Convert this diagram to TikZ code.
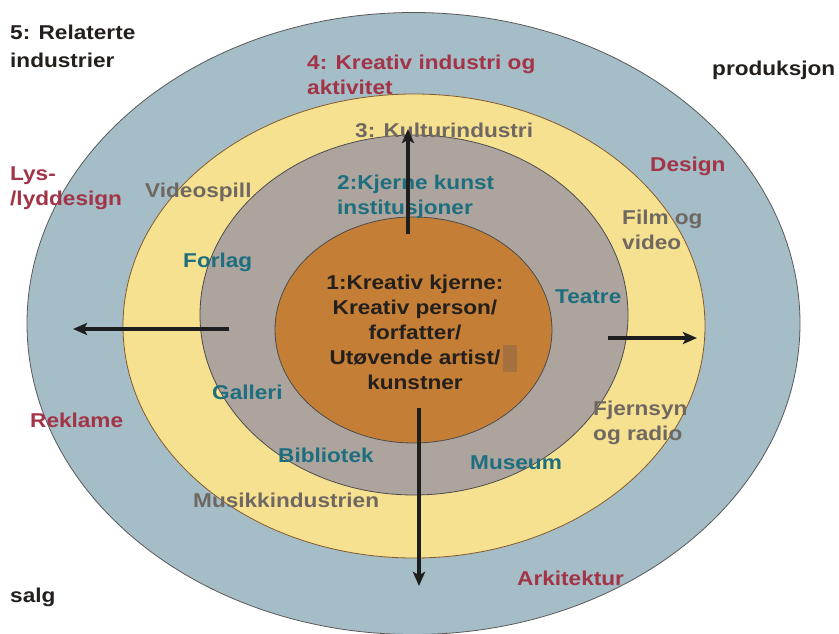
\documentclass[tikz,border=0pt]{standalone}
\usepackage{fontspec}
\newfontfamily\lab[FakeStretch=1.13]{Liberation Sans}
\usetikzlibrary{shapes.geometric,arrows.meta}
\definecolor{ringA}{HTML}{A4BDC6}
\definecolor{ringB}{HTML}{F6E190}
\definecolor{ringC}{HTML}{ADA49E}
\definecolor{ringD}{HTML}{C47E36}
\definecolor{txtdark}{HTML}{231F1C}
\definecolor{txtred}{HTML}{A33347}
\definecolor{txtteal}{HTML}{1D6E7E}
\definecolor{txtgray}{HTML}{6F6862}
\definecolor{patch}{HTML}{A5703F}
\definecolor{arrowc}{HTML}{1E1E1E}
\begin{document}
\begin{tikzpicture}[x=1pt,y=-1pt,
  ring/.style={ellipse,inner sep=0pt,line width=0.8pt},
  lbl/.style={inner sep=0pt,anchor=west,align=left,font=\lab\bfseries\fontsize{20}{25}\selectfont},
  dark/.style={lbl,text=txtdark},
  red/.style={lbl,text=txtred},
  teal/.style={lbl,text=txtteal},
  grey/.style={lbl,text=txtgray},
  flow/.style={line width=3.6pt,draw=arrowc,-{Stealth[length=14pt,width=12pt,inset=3pt]}}]
\useasboundingbox (0,0) rectangle (839,634);
\clip (0,0) rectangle (839,634);
\fill[white] (0,0) rectangle (839,634);
\node[ring,fill=ringA,draw=black!65,minimum width=773pt,minimum height=622pt] (outer) at (413.5,323.5) {};
\node[ring,fill=ringB,draw=brown!70!black,minimum width=582pt,minimum height=464pt] (yellow) at (414,326) {};
\node[ring,fill=ringC,draw=black!70,minimum width=428pt,minimum height=360pt] (grey) at (414,315) {};
\node[ring,fill=ringD,draw=black!70,minimum width=277pt,minimum height=226pt] (core) at (413.5,330) {};
\node[fill=patch,inner sep=0pt,minimum width=14pt,minimum height=27pt] (patch) at (510,358.5) {};
% labels
\node[dark,font=\lab\bfseries\fontsize{20}{28}\selectfont] (rel) at (10,46) {5: Relaterte\\industrier};
\node[red] (kreind) at (307,75) {4: Kreativ industri og\\aktivitet};
\node[dark] (prod) at (712,70) {produksjon};
\node[grey] (kult) at (355,130) {3: Kulturindustri};
\node[red] (lys) at (10,188) {Lys-\\/lyddesign};
\node[grey] (video) at (145,192) {Videospill};
\node[teal] (kjerne) at (337,197) {2:Kjerne kunst\\institusjoner};
\node[red] (design) at (650,166) {Design};
\node[grey] (film) at (622,230) {Film og\\video};
\node[teal] (forlag) at (183,262) {Forlag};
\node[dark,anchor=center,align=center] (coretxt) at (415,332) {1:Kreativ kjerne:\\Kreativ person/\\forfatter/\\Utøvende artist/\\kunstner};
\node[teal] (teatre) at (555,297) {Teatre};
\node[teal] (galleri) at (212,392) {Galleri};
\node[red] (reklame) at (30,420) {Reklame};
\node[grey] (fjern) at (593,423) {Fjernsyn\\og radio};
\node[teal] (bibl) at (278,455) {Bibliotek};
\node[teal] (museum) at (470,463) {Museum};
\node[grey] (musikk) at (193,500) {Musikkindustrien};
\node[red] (arki) at (517,578) {Arkitektur};
\node[dark] (salg) at (10,597) {salg};
% arrows
\coordinate (upS) at (408,234);
\coordinate (upE) at (408,129);
\coordinate (dnS) at (419,408);
\coordinate (dnE) at (419,586);
\coordinate (lfS) at (229,329);
\coordinate (lfE) at (73,329);
\coordinate (rtS) at (608,338);
\coordinate (rtE) at (697,338);
\draw[flow] (upS) -- (upE);
\draw[flow] (dnS) -- (dnE);
\draw[flow] (lfS) -- (lfE);
\draw[flow] (rtS) -- (rtE);
\end{tikzpicture}
\end{document}
